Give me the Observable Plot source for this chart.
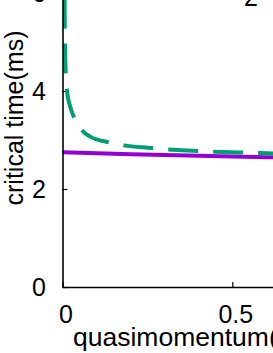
<!DOCTYPE html>
<html><head><meta charset="utf-8">
<script src="https://cdn.jsdelivr.net/npm/d3@7"></script>
<script src="https://cdn.jsdelivr.net/npm/@observablehq/plot@0.6"></script>
<style>
html,body{margin:0;padding:0;background:#fff;overflow:hidden;width:273px;height:353px;position:relative;}
#chart{position:absolute;left:0;top:-80px;width:500px;}
#chart svg{max-width:none !important;width:500px !important;height:440px !important;}
#key{position:absolute;left:244px;top:-15px;font:25px/25px "Liberation Sans",Arial,sans-serif;color:#000;white-space:nowrap;}
</style></head><body>
<div id="chart"></div>
<div id="key"></div>
<script>
// Series
const purpleX = [0, 0.2, 0.4, 0.6, 0.8, 1.0];
const purpleY = [2.76, 2.72, 2.69, 2.66, 2.63, 2.60];

const greenX = [0.003, 0.0042, 0.005, 0.0065, 0.009, 0.012, 0.02, 0.032, 0.045, 0.057, 0.08, 0.13, 0.18, 0.25, 0.35, 0.45, 0.55, 0.65, 0.8, 1.0];
const greenY = [8.0, 6.5, 5.5, 4.7, 4.3, 4.0, 3.72, 3.48, 3.32, 3.2, 3.08, 2.97, 2.9, 2.85, 2.8, 2.77, 2.75, 2.73, 2.71, 2.69];

const xTicks = [0, 0.5, 1];
const yTicks = [0, 2, 4, 6];
const xLabel = "quasimomentum(k/k_L)";
const yLabel = "critical time(ms)";
const keyLabel = "2";

const purple = purpleX.map((x, i) => ({x, y: purpleY[i]}));
const green = greenX.map((x, i) => ({x, y: greenY[i]}));

const font = "Liberation Sans, Arial, sans-serif";

const chart = Plot.plot({
  width: 500,
  height: 440,
  marginLeft: 62.5,
  marginRight: 97.9,
  marginTop: 24,
  marginBottom: 73,
  style: {fontFamily: font, background: "white", overflow: "visible", maxWidth: "none"},
  x: {domain: [0, 1]},
  y: {domain: [0, 7]},
  marks: [
    Plot.axisY({ticks: yTicks, tickSize: 0, tickPadding: 17, fontSize: 25, label: null, tickFormat: d => String(d)}),
    Plot.axisY({ticks: yTicks, tickSize: -5, tickFormat: () => "", label: null, strokeWidth: 1.2}),
    Plot.axisX({ticks: xTicks, tickSize: 0, tickPadding: 18, fontSize: 25, label: null, dx: 3, tickFormat: d => String(d)}),
    Plot.axisX({ticks: xTicks, tickSize: -5, tickFormat: () => "", label: null, strokeWidth: 1.2}),
    Plot.line(purple, {x: "x", y: "y", stroke: "#9400D3", strokeWidth: 4, clip: true}),
    Plot.line(green, {x: "x", y: "y", stroke: "#009E73", strokeWidth: 4, strokeDasharray: "30,15", strokeDashoffset: 32, strokeLinecap: "butt", curve: "monotone-x", clip: true}),
    Plot.ruleX([0], {stroke: "black", strokeWidth: 1.6}),
    Plot.ruleY([0], {stroke: "black", strokeWidth: 1.6}),
    Plot.text([xLabel], {frameAnchor: "bottom-left", textAnchor: "start", dx: 10, dy: 58, fontSize: 26.5, fill: "black"}),
    Plot.text([yLabel], {frameAnchor: "left", textAnchor: "middle", rotate: -90, dx: -48.5, dy: 2, fontSize: 25, fill: "black"})
  ]
});
document.getElementById("chart").appendChild(chart);
document.getElementById("key").textContent = keyLabel;
</script>
</body></html>
